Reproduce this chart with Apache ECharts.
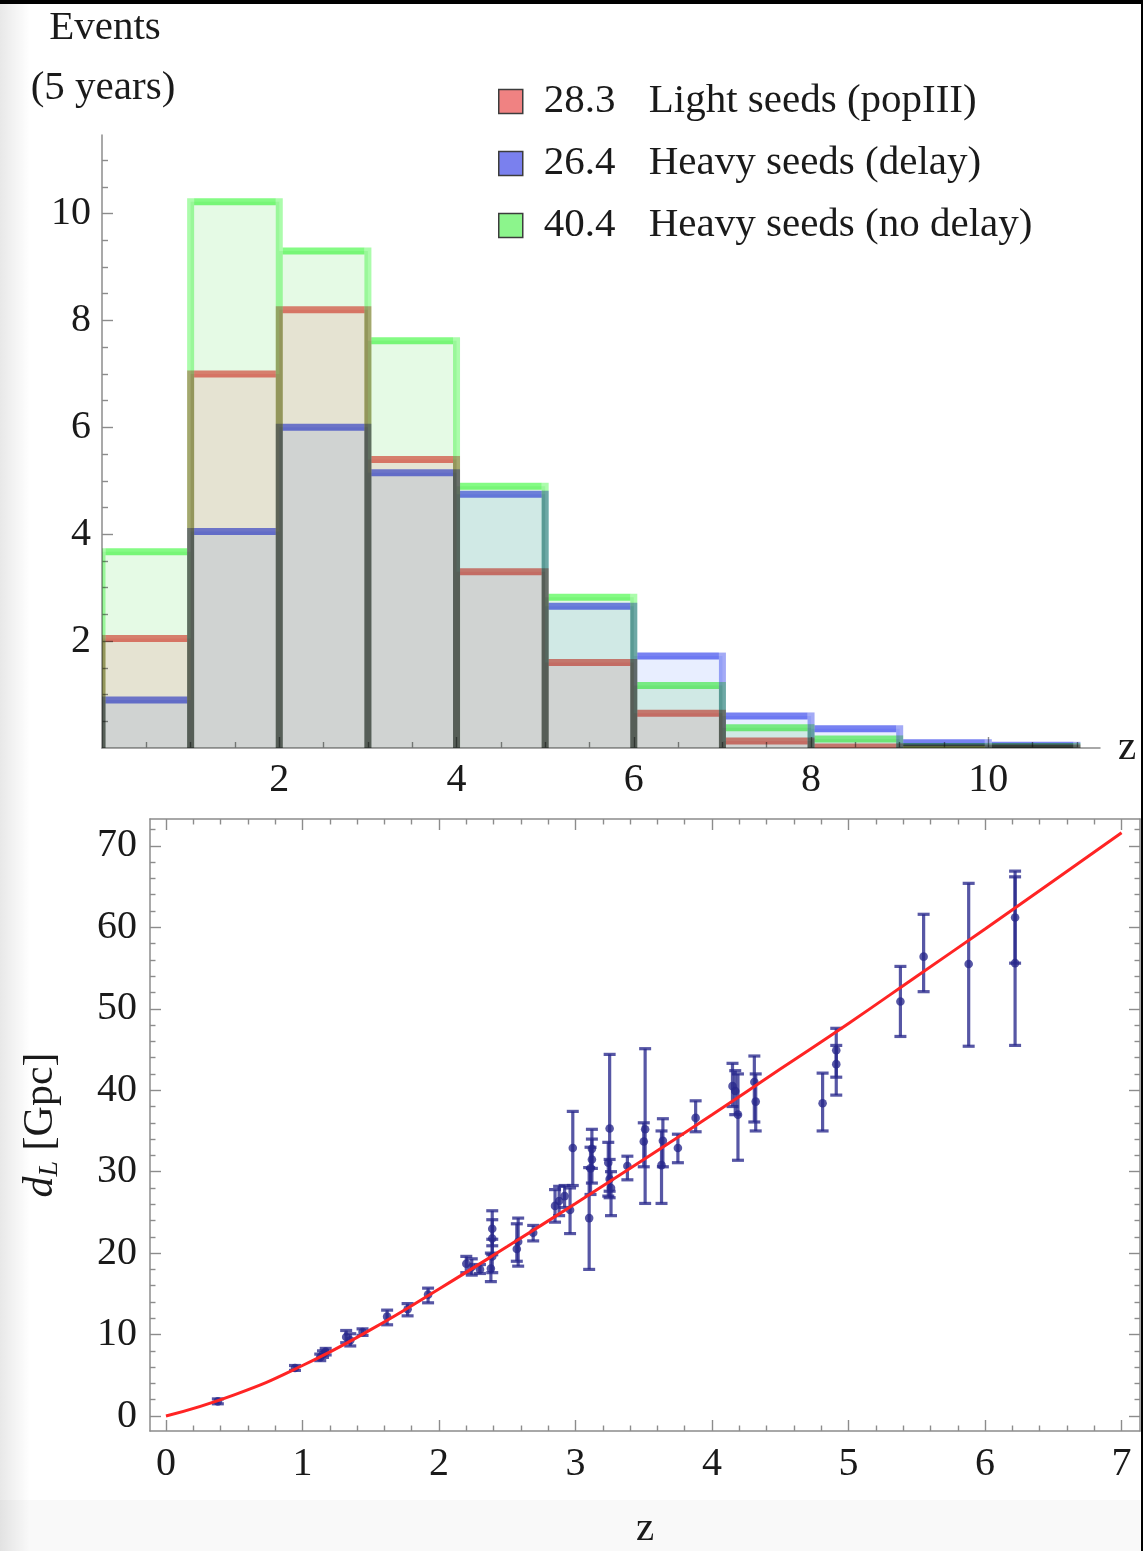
<!DOCTYPE html>
<html>
<head>
<meta charset="utf-8">
<title>Events per redshift bin and luminosity distance</title>
<script src="https://cdn.jsdelivr.net/npm/echarts@6.0.0/dist/echarts.min.js"></script>
<style>
  html, body { margin: 0; padding: 0; background: #fff; }
  #chart { width: 1143px; height: 1551px; }
</style>
</head>
<body>
<div id="chart"></div>
<script>
// 上图：每个红移区间的事件数（5年）
const binEdges = [0, 1, 2, 3, 4, 5, 6, 7, 8, 9, 10, 11];
const popIII = [2.05, 7.0, 8.2, 5.4, 3.3, 1.6, 0.65, 0.13, 0.02, 0, 0];
const heavyDelay = [0.9, 4.05, 6.0, 5.15, 4.75, 2.65, 1.72, 0.6, 0.36, 0.1, 0.05];
const heavyNoDelay = [3.67, 10.22, 9.3, 7.62, 4.9, 2.82, 1.17, 0.38, 0.17, 0.03, 0.03];
const seedNames = ['Light seeds (popIII)', 'Heavy seeds (delay)', 'Heavy seeds (no delay)'];
const seedTotals = ['28.3', '26.4', '40.4'];

// 下图：观测点 (z, d_L) 及误差棒上下限
const zObs = [0.38, 0.945, 1.13, 1.15, 1.17, 1.32, 1.35, 1.44, 1.62, 1.77, 1.92,
  2.20, 2.24, 2.30, 2.39, 2.39, 2.39, 2.38, 2.58, 2.57, 2.69, 2.85, 2.88, 2.92, 2.96, 2.98,
  3.10, 3.12, 3.12, 3.11, 3.25, 3.24, 3.25, 3.26, 3.38, 3.51, 3.50, 3.64, 3.63, 3.75, 3.88,
  4.15, 4.17, 4.19, 4.31, 4.32, 4.81, 4.91, 4.91, 5.38, 5.55, 5.88, 6.22, 6.22];
const dLObs = [1.8, 5.9, 7.2, 7.6, 7.9, 9.7, 9.3, 10.3, 12.2, 13.1, 14.9,
  18.7, 18.3, 18.0, 23.0, 21.8, 19.6, 18.1, 21.4, 20.5, 22.5, 25.8, 26.4, 27.0, 25.3, 32.9,
  24.3, 32.8, 31.5, 30.4, 35.3, 31.1, 29.1, 28.0, 30.7, 35.2, 33.7, 33.8, 30.8, 32.9, 36.6,
  40.5, 39.9, 37.0, 41.0, 38.6, 38.4, 44.9, 43.2, 50.9, 56.4, 55.5, 61.2, 55.6];
const dLLow = [1.5, 5.6, 6.8, 7.2, 7.5, 9.0, 8.6, 9.9, 11.2, 12.3, 13.9,
  17.6, 17.3, 17.5, 20.9, 19.8, 17.6, 16.5, 18.4, 19.0, 21.5, 23.8, 24.6, 25.6, 22.4, 28.3,
  18.0, 30.4, 28.6, 27.2, 27.6, 27.0, 26.8, 24.6, 29.0, 26.1, 30.6, 30.6, 26.1, 31.1, 34.9,
  38.0, 37.0, 31.4, 36.1, 35.0, 35.0, 41.6, 39.4, 46.6, 52.1, 45.4, 55.6, 45.5];
const dLHigh = [2.1, 6.2, 7.6, 8.0, 8.3, 10.5, 10.1, 10.7, 13.0, 13.8, 15.7,
  19.6, 19.3, 18.6, 25.2, 24.1, 21.7, 20.0, 24.3, 23.6, 23.4, 27.8, 28.2, 28.3, 28.0, 37.4,
  30.5, 35.2, 34.0, 33.0, 44.4, 33.6, 31.5, 30.0, 31.9, 45.1, 36.0, 36.5, 35.0, 34.6, 38.7,
  43.3, 42.4, 42.0, 44.2, 42.0, 42.1, 47.6, 45.5, 55.2, 61.6, 65.4, 66.9, 66.2];

// 下图红色曲线（读图所得）
const zCurve = [0, 0.5, 1, 1.5, 2, 2.5, 3, 3.5, 4, 4.5, 5, 5.5, 6, 6.5, 7];
const dLCurve = [0, 2.6, 6.2, 10.6, 15.6, 20.8, 26.1, 31.5, 37.0, 42.6, 48.2, 54.0, 59.8, 65.7, 71.6];

// 刻度
const topXMajor = [2, 4, 6, 8, 10];
const topYMajor = [2, 4, 6, 8, 10];
const botXMajor = [0, 1, 2, 3, 4, 5, 6, 7];
const botYMajor = [0, 10, 20, 30, 40, 50, 60, 70];

const serif = 'Liberation Serif';
const textColor = '#1a1a1a';
const axisGrey = '#8c8c8c';

// 次刻度：按步长生成，去掉主刻度位置
function minorTicks(from, to, step, majorStep) {
  const out = [];
  for (let k = Math.ceil(from / step - 1e-9); k * step <= to + 1e-9; k++) {
    const v = +(k * step).toFixed(4);
    const r = v / majorStep;
    if (Math.abs(r - Math.round(r)) > 1e-6) out.push(v);
  }
  return out;
}

// 生成一根只画刻度（可选标签）的坐标轴
function tickAxis(opt) {
  return {
    type: 'value',
    gridIndex: opt.grid,
    position: opt.position,
    min: opt.min,
    max: opt.max,
    name: opt.name || '',
    nameLocation: opt.nameLocation,
    nameGap: opt.nameGap,
    nameRotate: opt.nameRotate,
    nameTextStyle: opt.nameTextStyle,
    axisLine: { show: !!opt.line, onZero: false, lineStyle: { color: axisGrey, width: 1.5 } },
    axisTick: { show: true, inside: true, length: opt.len, customValues: opt.ticks,
      lineStyle: { color: axisGrey, width: 1.4 } },
    axisLabel: opt.labels ? {
      show: true, customValues: opt.labels, margin: opt.margin,
      fontFamily: serif, fontSize: 40, color: textColor
    } : { show: false },
    splitLine: { show: false },
    minorTick: { show: false }
  };
}

const TX = [0, 11.26], TY = [0, 11.47], BX = [-0.117, 7.135], BY = [-1.84, 73.3];

const xAxes = [
  tickAxis({ grid: 0, position: 'bottom', min: TX[0], max: TX[1], line: true, len: 11,
    ticks: topXMajor, labels: topXMajor, margin: 12,
    name: 'z', nameLocation: 'end', nameGap: 18,
    nameTextStyle: { fontFamily: serif, fontSize: 41, color: textColor } }),
  tickAxis({ grid: 0, position: 'bottom', min: TX[0], max: TX[1], len: 6,
    ticks: minorTicks(0.5, 11, 0.5, 2) }),
  tickAxis({ grid: 1, position: 'bottom', min: BX[0], max: BX[1], line: true, len: 11,
    ticks: botXMajor, labels: botXMajor, margin: 13,
    name: 'z', nameLocation: 'middle', nameGap: 78,
    nameTextStyle: { fontFamily: serif, fontSize: 41, color: textColor } }),
  tickAxis({ grid: 1, position: 'bottom', min: BX[0], max: BX[1], len: 5.5,
    ticks: minorTicks(0, 7.1, 0.2, 1) }),
  tickAxis({ grid: 1, position: 'top', min: BX[0], max: BX[1], line: true, len: 11, ticks: botXMajor }),
  tickAxis({ grid: 1, position: 'top', min: BX[0], max: BX[1], len: 5.5, ticks: minorTicks(0, 7.1, 0.2, 1) })
];

const yAxes = [
  tickAxis({ grid: 0, position: 'left', min: TY[0], max: TY[1], line: true, len: 11,
    ticks: topYMajor, labels: topYMajor, margin: 11 }),
  tickAxis({ grid: 0, position: 'left', min: TY[0], max: TY[1], len: 6,
    ticks: minorTicks(0.5, 11, 0.5, 2) }),
  tickAxis({ grid: 1, position: 'left', min: BY[0], max: BY[1], line: true, len: 11,
    ticks: botYMajor, labels: botYMajor, margin: 13,
    name: '{i|d}{s|L}{n| [Gpc]}', nameLocation: 'middle', nameGap: 86, nameRotate: 90,
    nameTextStyle: { rich: {
      i: { fontFamily: serif, fontSize: 42, fontStyle: 'italic', color: textColor, lineHeight: 46 },
      s: { fontFamily: serif, fontSize: 28, fontStyle: 'italic', color: textColor, lineHeight: 24, verticalAlign: 'bottom' },
      n: { fontFamily: serif, fontSize: 42, color: textColor, lineHeight: 46 }
    } } }),
  tickAxis({ grid: 1, position: 'left', min: BY[0], max: BY[1], len: 5.5, ticks: minorTicks(0, 73, 2, 10) }),
  tickAxis({ grid: 1, position: 'right', min: BY[0], max: BY[1], line: true, len: 11, ticks: botYMajor }),
  tickAxis({ grid: 1, position: 'right', min: BY[0], max: BY[1], len: 5.5, ticks: minorTicks(0, 73, 2, 10) })
];

// 直方图：填充矩形 + 粗描边，整个系列用 multiply 混合模拟重叠效果
// 每条竖边只画一次（高度取相邻两柱较高者，并盖住拐角），避免叠加过黑
function histSeries(name, values, fill, rgb, swatch) {
  const topStroke = 'rgba(' + rgb + ',0.85)';
  const sideStroke = 'rgba(' + rgb + ',0.58)';
  const lw = 7;
  const last = values.length - 1;
  return {
    type: 'custom',
    name: name,
    xAxisIndex: 0,
    yAxisIndex: 0,
    clip: true,
    blendMode: 'multiply',
    itemStyle: { color: swatch },
    data: values.map((v, i) => [binEdges[i], v, binEdges[i + 1], i > 0 ? values[i - 1] : 0, i === last ? 1 : 0]),
    encode: { x: [0, 2], y: 1 },
    renderItem: function (params, api) {
      const v = api.value(1);
      const bl = api.coord([api.value(0), 0]);
      const tr = api.coord([api.value(2), v]);
      const leftTop = api.coord([api.value(0), Math.max(v, api.value(3))]);
      const children = [
        { type: 'rect', shape: { x: bl[0], y: tr[1], width: tr[0] - bl[0], height: bl[1] - tr[1] },
          style: { fill: fill } },
        { type: 'line', shape: { x1: bl[0], y1: bl[1], x2: bl[0], y2: leftTop[1] - lw / 2 },
          style: { stroke: sideStroke, lineWidth: lw } },
        { type: 'line', shape: { x1: bl[0] + lw / 2, y1: tr[1], x2: tr[0] - lw / 2, y2: tr[1] },
          style: { stroke: topStroke, lineWidth: lw } }
      ];
      if (api.value(4) === 1) {
        children.push({ type: 'line', shape: { x1: tr[0], y1: bl[1], x2: tr[0], y2: tr[1] - lw / 2 },
          style: { stroke: sideStroke, lineWidth: lw } });
      }
      return { type: 'group', children: children };
    }
  };
}

const errColor = 'rgba(40,40,140,0.78)';

function errItem(params, api) {
  const x = api.value(0);
  const p = api.coord([x, api.value(1)]);
  const lo = api.coord([x, api.value(2)]);
  const hi = api.coord([x, api.value(3)]);
  const w = 6;
  const st = { stroke: errColor, lineWidth: 3.2 };
  return {
    type: 'group',
    children: [
      { type: 'line', shape: { x1: lo[0], y1: lo[1], x2: hi[0], y2: hi[1] }, style: st },
      { type: 'line', shape: { x1: lo[0] - w, y1: lo[1], x2: lo[0] + w, y2: lo[1] }, style: st },
      { type: 'line', shape: { x1: hi[0] - w, y1: hi[1], x2: hi[0] + w, y2: hi[1] }, style: st },
      { type: 'circle', shape: { cx: p[0], cy: p[1], r: 4.3 }, style: { fill: errColor } }
    ]
  };
}

const chart = echarts.init(document.getElementById('chart'), null, { renderer: 'canvas' });

const option = {
  backgroundColor: '#ffffff',
  animation: false,
  grid: [
    { left: 102, top: 135, width: 998, height: 613 },
    { left: 150, top: 819, width: 990, height: 614 }
  ],
  xAxis: xAxes,
  yAxis: yAxes,
  legend: {
    data: seedNames,
    orient: 'vertical',
    left: 498,
    top: 81,
    padding: 0,
    itemGap: 21,
    itemWidth: 24,
    itemHeight: 24,
    icon: 'rect',
    selectedMode: false,
    itemStyle: { borderColor: '#3c3c3c', borderWidth: 1.5 },
    formatter: function (name) {
      return '{g| }{n|' + seedTotals[seedNames.indexOf(name)] + '}{t|' + name + '}';
    },
    textStyle: {
      fontFamily: serif, fontSize: 41, color: textColor,
      rich: {
        g: { width: 16, fontSize: 41, lineHeight: 44 },
        n: { width: 105, fontFamily: serif, fontSize: 41, lineHeight: 44, color: textColor },
        t: { fontFamily: serif, fontSize: 41, lineHeight: 44, color: textColor }
      }
    }
  },
  graphic: [
    { type: 'rect', z: -10, shape: { x: 0, y: 0, width: 30, height: 1551 },
      style: { fill: new echarts.graphic.LinearGradient(0, 0, 1, 0, [
        { offset: 0, color: 'rgba(0,0,0,0.09)' }, { offset: 1, color: 'rgba(0,0,0,0)' }]) } },
    { type: 'rect', z: -10, shape: { x: 0, y: 1500, width: 1143, height: 51 },
      style: { fill: 'rgba(0,0,0,0.025)' } },
    { type: 'rect', z: 100, shape: { x: 0, y: 0, width: 1143, height: 4 }, style: { fill: '#000' } },
    { type: 'rect', z: 100, shape: { x: 1141, y: 0, width: 2, height: 1551 }, style: { fill: '#000' } },
    { type: 'text', x: 105, y: 28, style: { text: 'Events', fill: textColor,
      font: '41px "Liberation Serif"', align: 'center', verticalAlign: 'middle' } },
    { type: 'text', x: 103, y: 88, style: { text: '(5 years)', fill: textColor,
      font: '41px "Liberation Serif"', align: 'center', verticalAlign: 'middle' } }
  ],
  series: [
    histSeries(seedNames[0], popIII, 'rgb(255,232,234)', '236,108,98', '#f08282'),
    histSeries(seedNames[1], heavyDelay, 'rgb(232,238,255)', '96,108,240', '#7a80ee'),
    histSeries(seedNames[2], heavyNoDelay, 'rgb(229,250,229)', '110,250,110', '#8cf58c'),
    {
      type: 'custom',
      name: 'events',
      xAxisIndex: 2,
      yAxisIndex: 2,
      clip: true,
      z: 3,
      data: zObs.map((z, i) => [z, dLObs[i], dLLow[i], dLHigh[i]]),
      encode: { x: 0, y: [1, 2, 3] },
      renderItem: errItem
    },
    {
      type: 'line',
      name: 'dL',
      xAxisIndex: 2,
      yAxisIndex: 2,
      z: 4,
      smooth: true,
      showSymbol: false,
      data: zCurve.map((z, i) => [z, dLCurve[i]]),
      lineStyle: { color: '#ff2424', width: 3 }
    }
  ]
};

chart.setOption(option);
</script>
</body>
</html>
